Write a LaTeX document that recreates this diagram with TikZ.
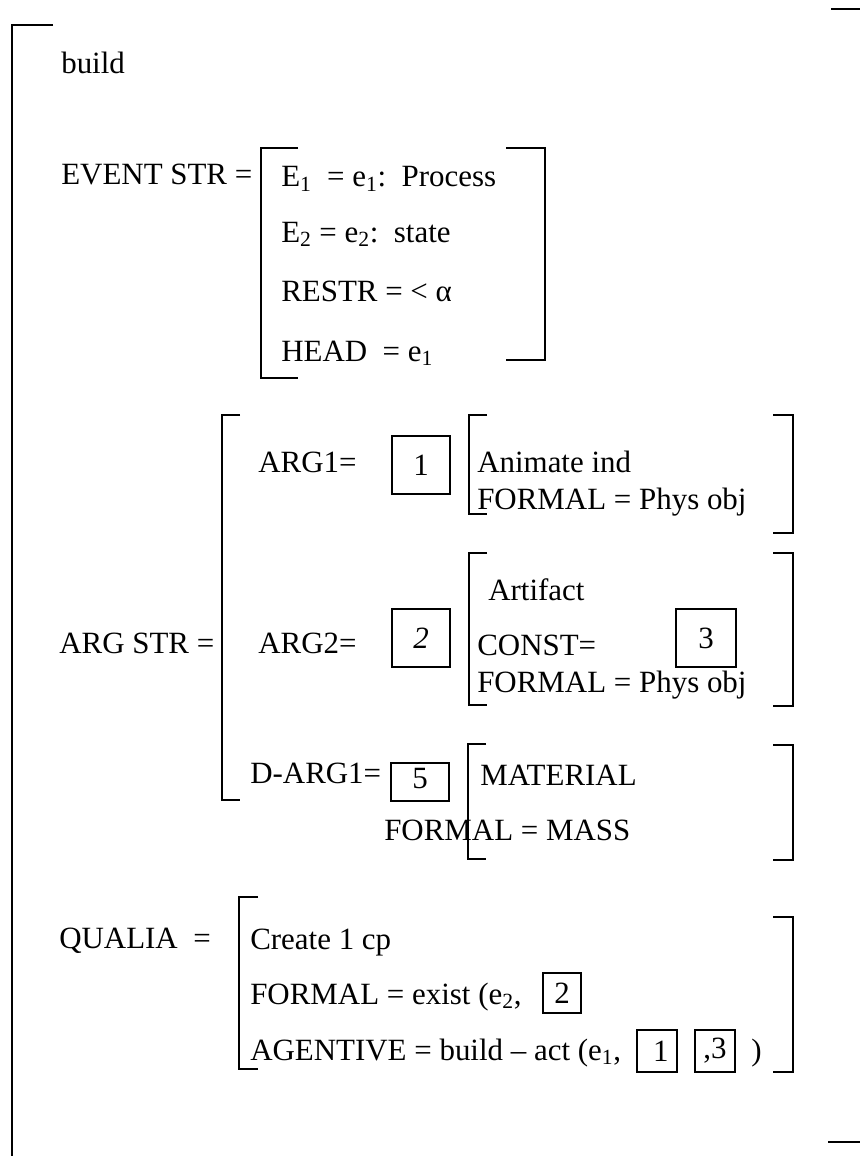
\documentclass[tikz,border=0pt]{standalone}
\usepackage{fontspec}
\setmainfont{Liberation Serif}
\usetikzlibrary{positioning}
\newcommand{\openbr}[4]{\draw[brk] (#1+#4,#2) -- (#1,#2) -- (#1,#3) -- (#1+#4,#3);}
\newcommand{\closebr}[4]{\draw[brk] (#1-#4,#2) -- (#1,#2) -- (#1,#3) -- (#1-#4,#3);}
\newcommand{\sub}[1]{\textsubscript{#1}}

\begin{document}
\begin{tikzpicture}[x=0.025cm, y=-0.025cm,
  every node/.style={font=\fontsize{22}{26}\selectfont},
  txt/.style={anchor=base west, inner sep=0pt},
  tag/.style={draw, line width=1.3pt, inner sep=0pt},
  brk/.style={line width=1.6pt}]
  \useasboundingbox (0,0) rectangle (860,1156);

  % 外枠
  \draw[brk] (53,25) -- (12,25) -- (12,1156);
  \draw[brk] (831,9) -- (860,9);
  \draw[brk] (828,1142) -- (860,1142);

  \node[txt] (head) at (61,74) {build};

  % 事象構造
  \node[txt] (evstr) at (61,185) {EVENT STR =};
  \openbr{261}{148}{378}{37}
  \closebr{545}{148}{360}{39}
  \node[txt] (e1) at (281,187) {E\sub{1}\ \ = e\sub{1}:\ \ Process};
  \node[txt] (e2) at (281,242) {E\sub{2} = e\sub{2}:\ \ state};
  \node[txt] (restr) at (281,301) {RESTR = < α};
  \node[txt] (headev) at (281,361) {HEAD\ \ = e\sub{1}};

  % 項構造
  \node[txt] (argstr) at (59,653) {ARG STR =};
  \openbr{222}{415}{800}{18}

  \node[txt] (arg1) at (258,472) {ARG1=};
  \node[tag, minimum width=1.43cm, minimum height=1.45cm] (tagA) at (421,465) {1};
  \openbr{469}{415}{514}{18}
  \closebr{793}{415}{533}{20}
  \node[txt] (anim) at (477,472) {Animate ind};
  \node[txt] (formA) at (477,509) {FORMAL = Phys obj};

  \node[txt] (arg2) at (258,653) {ARG2=};
  \node[tag, minimum width=1.43cm, minimum height=1.45cm] (tagB) at (421,638) {\itshape 2};
  \openbr{469}{553}{705}{18}
  \closebr{793}{553}{706}{20}
  \node[txt] (artf) at (488,600) {Artifact};
  \node[txt] (const) at (477,655) {CONST=};
  \node[tag, minimum width=1.48cm, minimum height=1.43cm] (tagC) at (706,638) {3};
  \node[txt] (formB) at (477,692) {FORMAL = Phys obj};

  \node[txt] (darg) at (250,783) {D-ARG1=};
  \node[tag, minimum width=1.43cm, minimum height=0.95cm] (tagE) at (420,782) {\raisebox{5pt}{5}};
  \openbr{468}{744}{859}{18}
  \closebr{793}{745}{860}{20}
  \node[txt] (matl) at (480,785) {MATERIAL};
  \node[txt] (mass) at (384,840) {FORMAL = MASS};

  % クオリア構造
  \node[txt] (qualia) at (59,948) {QUALIA\ \ =};
  \openbr{239}{897}{1069}{19}
  \closebr{793}{917}{1072}{20}
  \node[txt] (create) at (250,949) {Create 1 cp};
  \node[txt] (formQ) at (250,1004) {FORMAL = exist (e\sub{2},};
  \node[tag, minimum width=0.95cm, minimum height=0.98cm] (tagQB) at (562,993) {2};
  \node[txt] (agent) at (250,1060) {AGENTIVE = build -- act (e\sub{1},};
  \node[tag, minimum width=1.0cm, minimum height=1.03cm] (tagQA) at (657,1051) {\ 1};
  \node[tag, minimum width=0.98cm, minimum height=1.03cm] (tagQC) at (715,1051) {,3\ };
  \node[txt] (paren) at (751,1060) {)};
\end{tikzpicture}
\end{document}
